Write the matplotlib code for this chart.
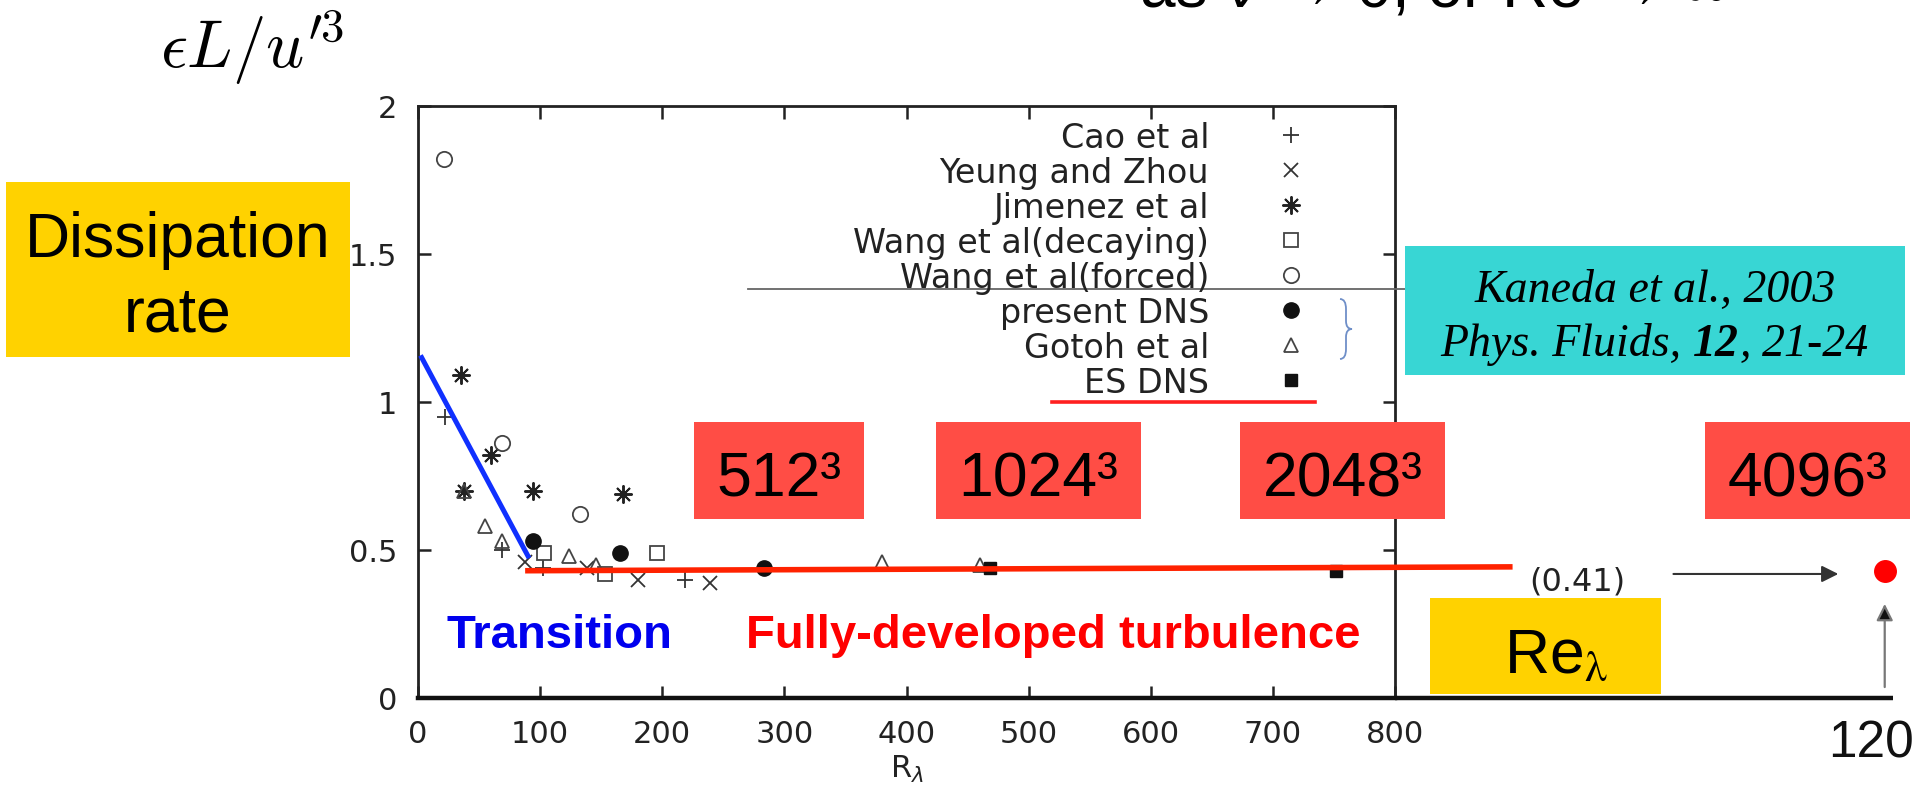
import matplotlib
matplotlib.use('Agg')
import matplotlib.pyplot as plt
from matplotlib.patches import Rectangle, PathPatch
from matplotlib.path import Path

# ---------------- data ----------------
cao_x = [22, 69, 102, 219]
cao_y = [0.95, 0.50, 0.44, 0.40]
yeung_x = [88, 138, 180, 239]
yeung_y = [0.46, 0.44, 0.40, 0.39]
jimenez_x = [35, 38, 60, 94, 168]
jimenez_y = [1.09, 0.70, 0.82, 0.70, 0.69]
wang_dec_x = [103, 153, 196]
wang_dec_y = [0.49, 0.42, 0.49]
wang_forced_x = [21, 69, 133]
wang_forced_y = [1.82, 0.86, 0.62]
present_x = [94, 165, 283]
present_y = [0.53, 0.49, 0.44]
gotoh_x = [38, 55, 69, 124, 146, 380, 460]
gotoh_y = [0.70, 0.58, 0.53, 0.48, 0.45, 0.46, 0.45]
es_x = [468, 752]
es_y = [0.44, 0.43]
es4096_x = [1201]
es4096_y = [0.43]

transition_x = [3, 90]
transition_y = [1.15, 0.48]
fully_x = [90, 894]
fully_y = [0.43, 0.443]

x_ticks = [0, 100, 200, 300, 400, 500, 600, 700, 800]
y_ticks = [0, 0.5, 1, 1.5, 2]
y_ticklabels = ['0', '0.5', '1', '1.5', '2']
grid_labels = ['512³', '1024³', '2048³', '4096³']

# ---------------- figure ----------------
W, H = 1926, 804
fig = plt.figure(figsize=(W / 100, H / 100), dpi=100)
fig.patch.set_facecolor('white')


def fx(px):
    return px / W


def fy(py):
    return 1 - py / H


ax = fig.add_axes([fx(418), fy(699), fx(1395) - fx(418), fy(107) - fy(699)])
ax.set_xlim(0, 800)
ax.set_ylim(0, 2)
ax.set_xticks(x_ticks)
ax.set_xticklabels([str(v) for v in x_ticks])
ax.set_yticks(y_ticks)
ax.set_yticklabels(y_ticklabels)
ax.tick_params(direction='in', length=9, width=1.8, top=True, right=True,
               labelsize=22, pad=15, colors='#222')
for side in ['left', 'top', 'right']:
    ax.spines[side].set_linewidth(2.0)
    ax.spines[side].set_color('#222')
ax.spines['bottom'].set_linewidth(3.2)
ax.spines['bottom'].set_color('#111')
ax.set_xlabel('R$_\\lambda$', fontsize=22, color='#222', labelpad=4)

mk = dict(ls='none', clip_on=False, zorder=4)
ax.plot(cao_x, cao_y, marker='+', ms=12, mec='#333', mew=1.3, label='Cao et al', **mk)
ax.plot(yeung_x, yeung_y, marker='x', ms=10, mec='#333', mew=1.3, label='Yeung and Zhou', **mk)
ax.plot(jimenez_x, jimenez_y, marker=(8, 2, 0), ms=13, mec='#222', mew=1.4, label='Jimenez et al', **mk)
ax.plot(wang_dec_x, wang_dec_y, marker='s', ms=10, mfc='none', mec='#444', mew=1.3,
        label='Wang et al(decaying)', **mk)
ax.plot(wang_forced_x, wang_forced_y, marker='o', ms=11, mfc='none', mec='#444', mew=1.3,
        label='Wang et al(forced)', **mk)
ax.plot(present_x, present_y, marker='o', ms=11, mfc='#111', mec='#111', mew=1,
        label='present DNS', **mk)
ax.plot(gotoh_x, gotoh_y, marker='^', ms=10, mfc='none', mec='#444', mew=1.3,
        label='Gotoh et al', **mk)
ax.plot(es_x, es_y, marker='s', ms=9, mfc='#111', mec='#111', mew=1,
        label='ES DNS', **mk)

leg = ax.legend(loc='upper right', bbox_to_anchor=(0.911, 0.975), frameon=False,
                markerfirst=False, fontsize=24, handlelength=1.0, handletextpad=1.97,
                labelspacing=0.06, borderpad=0, borderaxespad=0, labelcolor='#222')

# trend lines
ax.plot(transition_x, transition_y, color='#1030FF', lw=3.6, clip_on=False, zorder=5)
ax.plot(fully_x, fully_y, color='#FF2200', lw=4.0, clip_on=False, zorder=5)

# extended axis to the 4096^3 point
ax.plot([800, 1208], [0, 0], color='#111', lw=3.2, clip_on=False, solid_capstyle='butt')
ax.plot(es4096_x, es4096_y, ls='none', marker='o', ms=15.5, mfc='#FF0000', mec='#FF0000',
        clip_on=False, zorder=6)
ax.annotate('', xy=(1163, 0.419), xytext=(1028, 0.419), annotation_clip=False,
            arrowprops=dict(arrowstyle='-|>', color='#333', lw=1.5, mutation_scale=25,
                            shrinkA=0, shrinkB=0))
ax.annotate('', xy=(1201, 0.318), xytext=(1201, 0.037), annotation_clip=False,
            arrowprops=dict(arrowstyle='-|>', ec='#777', fc='#111', lw=1.6, mutation_scale=25,
                            shrinkA=0, shrinkB=0))
ax.text(949, 0.395, '(0.41)', ha='center', va='center', fontsize=23, color='#222',
        clip_on=False)

# gray horizontal guide line
ax.plot([270, 809], [1.382, 1.382], color='#666', lw=1.3, clip_on=False, zorder=3)

# ---------------- figure-level annotations ----------------
fig.text(fx(160), fy(68), r'$\epsilon L/u^{\prime 3}$', fontsize=48, math_fontfamily='cm',
         va='baseline', ha='left', color='black')

fig.text(fx(1140), fy(8), 'as ν → 0, or Re → ∞', fontsize=46,
         family=['Liberation Sans', 'DejaVu Sans'], va='baseline', ha='left', color='black')

# Dissipation rate box
fig.add_artist(Rectangle((fx(6), fy(358)), fx(350) - fx(6), fy(183) - fy(358),
                         transform=fig.transFigure, facecolor='#FFD200', edgecolor='none', zorder=2))
fig.text(fx(178), fy(257), 'Dissipation', fontsize=45, family='Liberation Sans',
         ha='center', va='baseline', zorder=3)
fig.text(fx(178), fy(332), 'rate', fontsize=45, family='Liberation Sans',
         ha='center', va='baseline', zorder=3)

# grid size boxes
boxes = [(694, 864), (936, 1141), (1240, 1445), (1705, 1910)]
for (x0, x1), lab in zip(boxes, grid_labels):
    fig.add_artist(Rectangle((fx(x0), fy(520)), fx(x1) - fx(x0), fy(423) - fy(520),
                             transform=fig.transFigure, facecolor='#FF4D45',
                             edgecolor='none', zorder=2))
    fig.text(fx((x0 + x1) / 2), fy(497), lab, fontsize=45, family='Liberation Sans',
             ha='center', va='baseline', zorder=3)

# Re_lambda box
fig.add_artist(Rectangle((fx(1430), fy(695)), fx(1661) - fx(1430), fy(599) - fy(695),
                         transform=fig.transFigure, facecolor='#FFD200', edgecolor='none', zorder=2))
fig.text(fx(1504), fy(673), r'Re$_{\mathrm{\lambda}}$', fontsize=45, family='Liberation Sans',
         math_fontfamily='stix', ha='left', va='baseline', zorder=3)

fig.text(fx(1828), fy(758), '120', fontsize=37, family='Liberation Sans', color='#111',
         ha='left', va='baseline')

# Transition / fully developed labels
fig.text(fx(446), fy(648), 'Transition', fontsize=34, family='Liberation Sans',
         fontweight='bold', color='#0000EE', ha='left', va='baseline')
fig.text(fx(746), fy(648), 'Fully-developed turbulence', fontsize=34, family='Liberation Sans',
         fontweight='bold', color='#FF0000', ha='left', va='baseline')

# citation box
fig.add_artist(Rectangle((fx(1405), fy(376)), fx(1905) - fx(1405), fy(247) - fy(376),
                         transform=fig.transFigure, facecolor='#38D6D4', edgecolor='none', zorder=2))
serif = dict(family='Liberation Serif', fontsize=33, style='italic', va='baseline', zorder=3)
fig.text(fx(1655), fy(302), 'Kaneda et al., 2003', ha='center', **serif)

renderer = fig.canvas.get_renderer()


def text_width(s, **kw):
    t = fig.text(0, 0, s, **kw)
    w = t.get_window_extent(renderer).width
    t.remove()
    return w


space_w = text_width('a a', **serif) - text_width('aa', **serif)
segs = [('Phys. Fluids,', 'normal', True), ('12', 'bold', False), (',', 'normal', True),
        ('21-24', 'normal', False)]
widths = [text_width(s, fontweight=wt, **serif) for s, wt, _ in segs]
total = sum(widths) + space_w * sum(1 for _, _, sp in segs if sp)
xcur = 1655 - total / 2
for (s, wt, sp), w in zip(segs, widths):
    fig.text(fx(xcur), fy(356), s, fontweight=wt, ha='left', **serif)
    xcur += w + (space_w if sp else 0)

# red underline below "ES DNS"
fig.add_artist(plt.Line2D([fx(1052), fx(1315)], [fy(403), fy(403)], transform=fig.transFigure,
                          color='#FF2020', lw=2.6, zorder=3))

# brace next to present DNS / Gotoh
bx, by0, by1 = 1340, 300, 360
ym = (by0 + by1) / 2
verts = [(bx, by0), (bx + 6, by0), (bx + 6, by0 + 10), (bx + 6, ym - 8), (bx + 6, ym), (bx + 12, ym),
         (bx + 6, ym), (bx + 6, ym + 8), (bx + 6, by1 - 10), (bx + 6, by1), (bx, by1)]
codes = [Path.MOVETO, Path.CURVE3, Path.CURVE3, Path.LINETO, Path.CURVE3, Path.CURVE3,
         Path.CURVE3, Path.CURVE3, Path.LINETO, Path.CURVE3, Path.CURVE3]
verts_f = [(fx(x), fy(y)) for x, y in verts]
fig.add_artist(PathPatch(Path(verts_f, codes), transform=fig.transFigure, facecolor='none',
                         edgecolor='#6f8fc8', lw=1.3, zorder=3))

fig.savefig('out.png', dpi=100, facecolor='white')
